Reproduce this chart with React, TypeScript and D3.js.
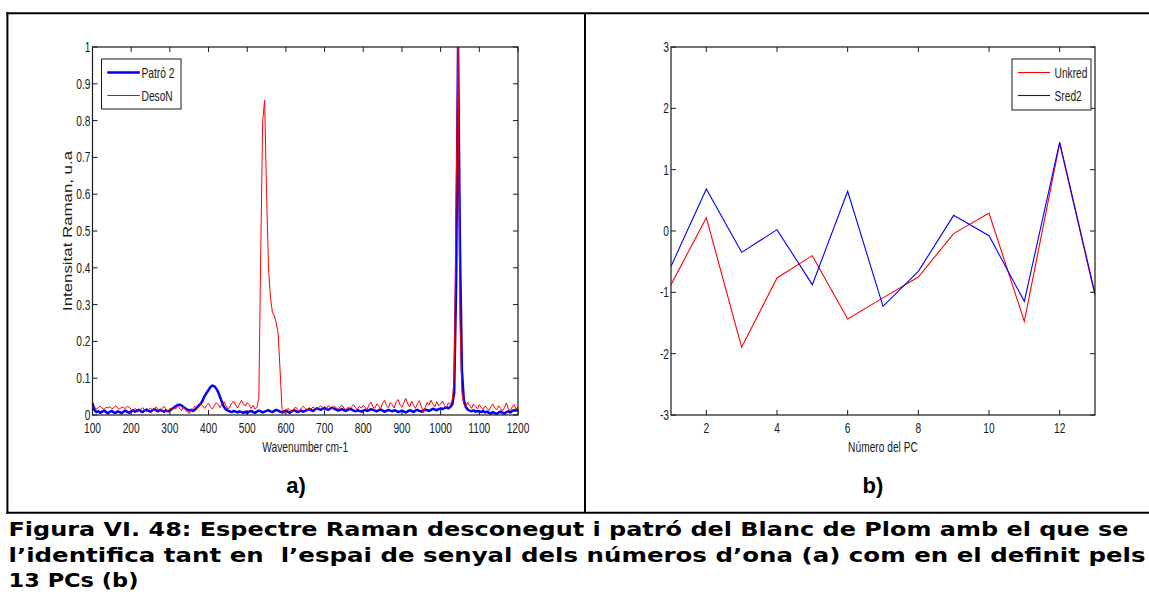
import React from 'react';
import * as d3 from 'd3';

// ---------- data ----------
const wavenumbers = d3.range(100, 1201, 5);
const patro2 = [
  0.032, 0.014, 0.008, 0.010, 0.006, 0.009, 0.012, 0.008, 0.005, 0.009, 0.011, 0.007, 0.006, 0.010, 0.008, 0.005, 0.009, 0.012, 0.008, 0.006,
  0.010, 0.013, 0.009, 0.011, 0.014, 0.010, 0.008, 0.012, 0.015, 0.011, 0.009, 0.013, 0.016, 0.012, 0.010, 0.014, 0.011, 0.009, 0.013, 0.010,
  0.012, 0.016, 0.020, 0.024, 0.027, 0.028, 0.026, 0.022, 0.018, 0.015, 0.012, 0.014, 0.011, 0.015, 0.020, 0.026, 0.031, 0.040, 0.052, 0.060,
  0.068, 0.076, 0.080, 0.078, 0.072, 0.062, 0.048, 0.034, 0.022, 0.015, 0.012, 0.010, 0.008, 0.011, 0.009, 0.007, 0.010, 0.008, 0.006, 0.009,
  0.006, 0.009, 0.011, 0.008, 0.006, 0.009, 0.012, 0.010, 0.007, 0.009, 0.011, 0.013, 0.010, 0.008, 0.011, 0.014, 0.012, 0.009, 0.007, 0.010,
  0.012, 0.009, 0.006, 0.010, 0.013, 0.011, 0.008, 0.010, 0.012, 0.009, 0.011, 0.014, 0.016, 0.013, 0.011, 0.015, 0.018, 0.016, 0.014, 0.017,
  0.019, 0.016, 0.014, 0.018, 0.020, 0.017, 0.015, 0.012, 0.014, 0.016, 0.013, 0.011, 0.014, 0.017, 0.015, 0.012, 0.010, 0.013, 0.011, 0.009,
  0.012, 0.014, 0.011, 0.013, 0.016, 0.014, 0.012, 0.010, 0.013, 0.015, 0.012, 0.009, 0.011, 0.014, 0.012, 0.010, 0.013, 0.011, 0.008, 0.010,
  0.012, 0.009, 0.007, 0.010, 0.013, 0.011, 0.008, 0.012, 0.014, 0.011, 0.009, 0.012, 0.015, 0.013, 0.011, 0.014, 0.017, 0.015, 0.013, 0.016,
  0.018, 0.016, 0.019, 0.021, 0.018, 0.022, 0.028, 0.060, 0.350, 1.000, 0.450, 0.120, 0.040, 0.022, 0.015, 0.012, 0.010, 0.013, 0.009, 0.011,
  0.010, 0.008, 0.011, 0.007, 0.009, 0.006, 0.004, 0.008, 0.005, 0.003, 0.007, 0.009, 0.006, 0.004, 0.008, 0.010, 0.007, 0.011, 0.013, 0.012,
  0.016,
];
const desoN = [
  0.018, 0.022, 0.016, 0.020, 0.024, 0.018, 0.015, 0.021, 0.019, 0.023, 0.017, 0.020, 0.025, 0.019, 0.016, 0.022, 0.020, 0.018, 0.024, 0.021,
  0.016, 0.012, 0.018, 0.014, 0.010, 0.016, 0.020, 0.013, 0.009, 0.015, 0.019, 0.012, 0.017, 0.022, 0.014, 0.010, 0.018, 0.024, 0.016, 0.011,
  0.018, 0.014, 0.020, 0.016, 0.026, 0.018, 0.012, 0.022, 0.015, 0.008, 0.004, 0.012, 0.018, 0.024, 0.016, 0.022, 0.030, 0.024, 0.018, 0.027,
  0.032, 0.022, 0.016, 0.025, 0.034, 0.028, 0.020, 0.030, 0.036, 0.026, 0.015, 0.022, 0.032, 0.038, 0.027, 0.019, 0.030, 0.040, 0.031, 0.024,
  0.034, 0.028, 0.018, 0.026, 0.016, 0.020, 0.045, 0.450, 0.800, 0.855, 0.600, 0.400, 0.320, 0.280, 0.270, 0.250, 0.220, 0.120, 0.015, 0.004,
  0.010, 0.018, 0.014, 0.008, 0.016, 0.022, 0.015, 0.011, 0.019, 0.024, 0.017, 0.013, 0.020, 0.016, 0.022, 0.018, 0.014, 0.021, 0.025, 0.019,
  0.023, 0.018, 0.026, 0.021, 0.016, 0.024, 0.020, 0.015, 0.022, 0.027, 0.019, 0.014, 0.021, 0.017, 0.023, 0.028, 0.020, 0.016, 0.024, 0.019,
  0.026, 0.020, 0.015, 0.028, 0.035, 0.022, 0.018, 0.030, 0.024, 0.017, 0.032, 0.040, 0.026, 0.020, 0.034, 0.028, 0.019, 0.036, 0.042, 0.027,
  0.021, 0.033, 0.045, 0.030, 0.022, 0.038, 0.026, 0.018, 0.031, 0.039, 0.024, 0.006, 0.020, 0.034, 0.027, 0.040, 0.030, 0.022, 0.036, 0.025,
  0.030, 0.038, 0.026, 0.020, 0.033, 0.028, 0.040, 0.100, 0.600, 1.000, 0.250, 0.060, 0.030, 0.022, 0.035, 0.026, 0.018, 0.030, 0.024, 0.017,
  0.028, 0.020, 0.015, 0.024, 0.018, 0.012, 0.022, 0.030, 0.019, 0.014, 0.025, 0.018, 0.011, 0.020, 0.033, 0.016, 0.012, 0.022, 0.028, 0.015,
  0.022,
];
const leftXTicks = [100, 200, 300, 400, 500, 600, 700, 800, 900, 1000, 1100, 1200];
const leftYTicks = [0, 0.1, 0.2, 0.3, 0.4, 0.5, 0.6, 0.7, 0.8, 0.9, 1];
const leftYTickLabels = ['0', '0.1', '0.2', '0.3', '0.4', '0.5', '0.6', '0.7', '0.8', '0.9', '1'];

const pcNumbers = [1, 2, 3, 4, 5, 6, 7, 8, 9, 10, 11, 12, 13];
const unkred = [-0.875, 0.217, -1.897, -0.766, -0.402, -1.435, -1.09, -0.75, -0.043, 0.293, -1.473, 1.43, -1.054];
const sred2 = [-0.576, 0.685, -0.348, 0.022, -0.875, 0.647, -1.228, -0.658, 0.255, -0.076, -1.147, 1.45, -1.02];
const rightXTicks = [2, 4, 6, 8, 10, 12];
const rightYTicks = [-3, -2, -1, 0, 1, 2, 3];

const captionLines = [
  'Figura VI. 48: Espectre Raman desconegut i patró del Blanc de Plom amb el que se',
  'l’identifica tant en  l’espai de senyal dels números d’ona (a) com en el definit pels',
  '13 PCs (b)',
];

// ---------- layout ----------
const W = 1149;
const H = 594;
const L = { x0: 92.5, x1: 518, y0: 47, y1: 415 };
const R = { x0: 671, x1: 1095, y0: 47, y1: 415 };
const TICK = 5;
const SQ = 0.73;
const FONT = 'Liberation Sans, Arial, Helvetica, sans-serif';
const AX = '#1a1a1a';

function SqText({ x, y, anchor = 'middle', size = 14, children }: any) {
  return (
    <text
      transform={`translate(${x},${y}) scale(${SQ},1)`}
      textAnchor={anchor}
      fontSize={size}
      fontFamily={FONT}
      fill={AX}
    >
      {children}
    </text>
  );
}

export default function App() {
  const lx = d3.scaleLinear().domain([100, 1200]).range([L.x0, L.x1]);
  const ly = d3.scaleLinear().domain([0, 1]).range([L.y1, L.y0]);
  const rx = d3.scaleLinear().domain([1, 13]).range([R.x0, R.x1]);
  const ry = d3.scaleLinear().domain([-3, 3]).range([R.y1, R.y0]);

  const lline = d3
    .line<number>()
    .x((_, i) => lx(wavenumbers[i]))
    .y((d) => ly(d));
  const rline = d3
    .line<number>()
    .x((_, i) => rx(pcNumbers[i]))
    .y((d) => ry(d));

  return (
    <svg
      width={W}
      height={H}
      viewBox={`0 0 ${W} ${H}`}
      style={{ position: 'absolute', left: 0, top: 0, background: '#fff' }}
    >
      <defs>
        <clipPath id="clipL">
          <rect x={L.x0} y={L.y0} width={L.x1 - L.x0} height={L.y1 - L.y0} />
        </clipPath>
        <clipPath id="clipR">
          <rect x={R.x0} y={R.y0} width={R.x1 - R.x0} height={R.y1 - R.y0} />
        </clipPath>
      </defs>
      <rect x={0} y={0} width={W} height={H} fill="#fff" />

      {/* table borders */}
      <g stroke="#000" strokeWidth={2} fill="none">
        <line x1={6.4} y1={13.3} x2={W} y2={13.3} />
        <line x1={7.4} y1={12.3} x2={7.4} y2={513.8} />
        <line x1={585} y1={13.3} x2={585} y2={512.8} />
        <line x1={6.4} y1={512.8} x2={W} y2={512.8} />
      </g>

      {/* ---------- left plot ---------- */}
      <g clipPath="url(#clipL)" fill="none" strokeLinejoin="round">
        <path d={lline(patro2) || ''} stroke="#0000ff" strokeWidth={2.5} />
        <path d={lline(desoN) || ''} stroke="#ff0000" strokeWidth={1} />
      </g>
      <rect x={L.x0} y={L.y0} width={L.x1 - L.x0} height={L.y1 - L.y0} fill="none" stroke={AX} strokeWidth={1.2} />
      <g stroke={AX} strokeWidth={1}>
        {leftXTicks.map((t) => (
          <g key={'lxt' + t}>
            <line x1={lx(t)} x2={lx(t)} y1={L.y1} y2={L.y1 - TICK} />
            <line x1={lx(t)} x2={lx(t)} y1={L.y0} y2={L.y0 + TICK} />
          </g>
        ))}
        {leftYTicks.map((t) => (
          <g key={'lyt' + t}>
            <line x1={L.x0} x2={L.x0 + TICK} y1={ly(t)} y2={ly(t)} />
            <line x1={L.x1} x2={L.x1 - TICK} y1={ly(t)} y2={ly(t)} />
          </g>
        ))}
      </g>
      {leftXTicks.map((t) => (
        <SqText key={'lxl' + t} x={lx(t)} y={433}>
          {String(t)}
        </SqText>
      ))}
      {leftYTicks.map((t, i) => (
        <SqText key={'lyl' + t} x={L.x0 - 2} y={ly(t) + 5} anchor="end">
          {leftYTickLabels[i]}
        </SqText>
      ))}
      <SqText x={(L.x0 + L.x1) / 2} y={452}>
        Wavenumber cm-1
      </SqText>
      <text
        transform={`translate(71.5,${(L.y0 + L.y1) / 2}) rotate(-90)`}
        textAnchor="middle"
        fontSize={13}
        fontFamily={FONT}
        fill={AX}
        textLength={160}
        lengthAdjust="spacingAndGlyphs"
      >
        Intensitat Raman, u.a
      </text>
      {/* left legend */}
      <rect x={101.5} y={59} width={79.5} height={50} fill="#fff" stroke={AX} strokeWidth={1} />
      <line x1={107.3} x2={139.8} y1={72.5} y2={72.5} stroke="#0000ff" strokeWidth={2.5} />
      <line x1={107.3} x2={139.8} y1={95.5} y2={95.5} stroke="#ff0000" strokeWidth={1} />
      <SqText x={141.5} y={77.5} anchor="start">
        Patró 2
      </SqText>
      <SqText x={141.5} y={100.5} anchor="start">
        DesoN
      </SqText>

      {/* ---------- right plot ---------- */}
      <g clipPath="url(#clipR)" fill="none" strokeLinejoin="miter">
        <path d={rline(unkred) || ''} stroke="#ff0000" strokeWidth={1.1} />
        <path d={rline(sred2) || ''} stroke="#0000ff" strokeWidth={1.1} />
      </g>
      <rect x={R.x0} y={R.y0} width={R.x1 - R.x0} height={R.y1 - R.y0} fill="none" stroke={AX} strokeWidth={1.2} />
      <g stroke={AX} strokeWidth={1}>
        {rightXTicks.map((t) => (
          <g key={'rxt' + t}>
            <line x1={rx(t)} x2={rx(t)} y1={R.y1} y2={R.y1 - TICK} />
            <line x1={rx(t)} x2={rx(t)} y1={R.y0} y2={R.y0 + TICK} />
          </g>
        ))}
        {rightYTicks.map((t) => (
          <g key={'ryt' + t}>
            <line x1={R.x0} x2={R.x0 + TICK} y1={ry(t)} y2={ry(t)} />
            <line x1={R.x1} x2={R.x1 - TICK} y1={ry(t)} y2={ry(t)} />
          </g>
        ))}
      </g>
      {rightXTicks.map((t) => (
        <SqText key={'rxl' + t} x={rx(t)} y={433}>
          {String(t)}
        </SqText>
      ))}
      {rightYTicks.map((t) => (
        <SqText key={'ryl' + t} x={R.x0 - 2} y={ry(t) + 5} anchor="end">
          {String(t)}
        </SqText>
      ))}
      <SqText x={(R.x0 + R.x1) / 2} y={452}>
        Número del PC
      </SqText>
      {/* right legend */}
      <rect x={1012} y={59} width={79} height={51} fill="#fff" stroke={AX} strokeWidth={1} />
      <line x1={1018} x2={1050} y1={72.5} y2={72.5} stroke="#ff0000" strokeWidth={1.1} />
      <line x1={1018} x2={1050} y1={95.5} y2={95.5} stroke="#0000ff" strokeWidth={1.1} />
      <SqText x={1054.5} y={77.5} anchor="start">
        Unkred
      </SqText>
      <SqText x={1054.5} y={100.5} anchor="start">
        Sred2
      </SqText>

      {/* panel labels */}
      <text x={296} y={493} textAnchor="middle" fontSize={22} fontWeight="bold" fontFamily={FONT} fill="#000">
        a)
      </text>
      <text x={873} y={493} textAnchor="middle" fontSize={22} fontWeight="bold" fontFamily={FONT} fill="#000">
        b)
      </text>

      {/* caption */}
      {captionLines.map((s, i) => (
        <text
          key={'cap' + i}
          x={8.5}
          y={536 + i * 25.5}
          fontSize={20}
          fontWeight="bold"
          fontFamily="DejaVu Sans, Verdana, sans-serif"
          fill="#000"
          style={{ whiteSpace: 'pre' }}
          textLength={[1120, 1137, 130][i]}
          lengthAdjust="spacingAndGlyphs"
        >
          {s}
        </text>
      ))}
    </svg>
  );
}
